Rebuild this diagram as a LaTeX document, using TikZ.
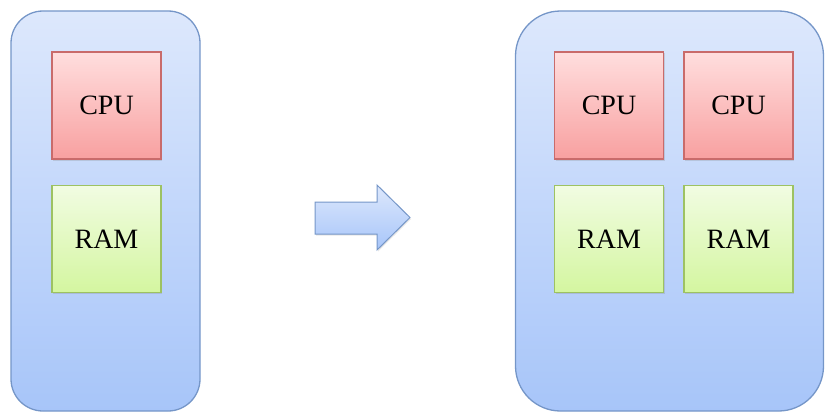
\documentclass[tikz,border=0pt]{standalone}
\usepackage{fontspec}
\setmainfont{Liberation Serif}
\usetikzlibrary{shadows}
\definecolor{hostedge}{HTML}{7596C8}
\definecolor{hosttop}{HTML}{DDE8FC}
\definecolor{hostbot}{HTML}{A7C5F9}
\definecolor{cpuedge}{HTML}{C96B6B}
\definecolor{cputop}{HTML}{FFDEDE}
\definecolor{cpubot}{HTML}{F8A0A0}
\definecolor{ramedge}{HTML}{9DC262}
\definecolor{ramtop}{HTML}{F1FCE2}
\definecolor{rambot}{HTML}{D4F6A0}
\tikzset{
  host/.style={draw=hostedge, line width=1.3pt, top color=hosttop, bottom color=hostbot, minimum height=400pt, inner sep=0pt},
  unit/.style={line width=1.1pt, minimum width=109pt, minimum height=107pt, inner sep=0pt, font=\fontsize{28}{30}\selectfont,
    drop shadow={shadow xshift=1pt, shadow yshift=-1.5pt, opacity=0.25}},
  cpubox/.style={unit, draw=cpuedge, top color=cputop, bottom color=cpubot},
  rambox/.style={unit, draw=ramedge, top color=ramtop, bottom color=rambot},
}
\begin{document}
\begin{tikzpicture}[x=1pt,y=-1pt]
\useasboundingbox (0,0) rectangle (826,412);
\node[host, rounded corners=32pt, minimum width=189pt] (h1) at (105.5,211) {};
\node[host, rounded corners=45pt, minimum width=308pt] (h2) at (669.5,211) {};
\node[cpubox] (c1) at (106.5,105.5) {CPU};
\node[rambox] (r1) at (106.5,239) {RAM};
\node[cpubox] (c2) at (609,105.5) {CPU};
\node[cpubox] (c3) at (738.5,105.5) {CPU};
\node[rambox] (r2) at (609,239) {RAM};
\node[rambox] (r3) at (738.5,239) {RAM};
\draw[draw=hostedge, line width=1pt, top color=hosttop, bottom color=hostbot!90!black!0!hostbot,
  drop shadow={shadow xshift=1pt, shadow yshift=-1.5pt, opacity=0.2}]
  (315,202) -- (377,202) -- (377,185) -- (410,217.5) -- (377,250) -- (377,234) -- (315,234) -- cycle;
\end{tikzpicture}
\end{document}
